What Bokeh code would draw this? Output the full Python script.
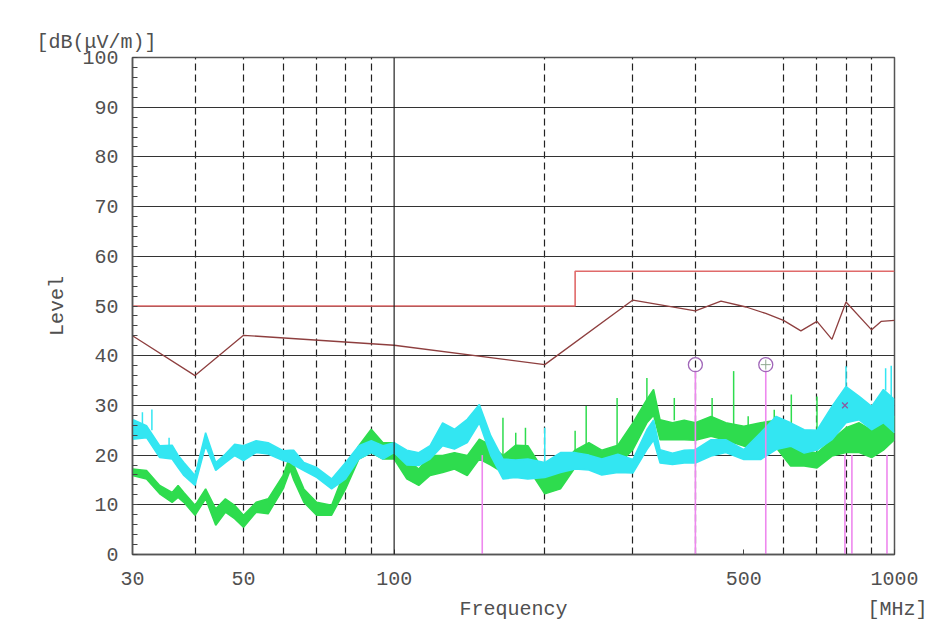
import math
from bokeh.plotting import figure
from bokeh.models import (ColumnDataSource, FixedTicker, SingleIntervalTicker, Span,
                          Title, Range1d)
from bokeh.embed import file_html
from bokeh.resources import INLINE

# ---------------- data ----------------
freq = [30, 32, 34, 36, 37, 38, 40, 42, 44, 46, 48, 50, 53, 56, 60, 62, 63, 66, 70, 75,
        80, 85, 90, 95, 100, 106, 112, 118, 125, 132, 140, 148, 156, 165, 175, 185,
        200, 215, 230, 245, 260, 280, 300, 320, 330, 340, 360, 380, 400, 430, 460,
        500, 540, 580, 620, 660, 700, 750, 800, 850, 900, 950, 1000]

green_lo = [15.9, 15.2, 12.2, 10.5, 11.5, 10.5, 7.9, 11.2, 5.9, 8.5, 7.2, 5.5, 8.5, 8.2, 13.2, 17.0, 15.0, 10.5, 7.9, 7.9,
            13.2, 19.2, 20.5, 19.2, 19.2, 15.2, 13.9, 15.9, 16.5, 17.2, 15.9, 19.2, 18.0, 16.5, 19.2, 17.5,
            12.2, 13.2, 17.5, 18.5, 17.5, 18.0, 21.1, 26.5, 28.0, 23.1, 23.1, 23.1, 23.0, 23.8, 23.0,
            21.8, 21.5, 21.5, 17.8, 17.8, 17.4, 19.8, 20.5, 20.5, 19.5, 21.0, 23.1]
green_hi = [17.2, 16.9, 13.9, 12.5, 13.9, 12.5, 9.9, 13.2, 9.2, 11.2, 9.9, 7.9, 10.5, 11.2, 15.9, 20.0, 18.0, 13.2, 10.5, 9.9,
            17.2, 21.9, 25.2, 22.5, 22.5, 19.2, 17.2, 19.9, 19.9, 20.5, 19.9, 23.2, 22.0, 19.9, 22.0, 21.9,
            16.5, 17.9, 21.0, 22.5, 21.0, 22.0, 26.5, 31.2, 33.2, 27.1, 26.5, 27.0, 26.5, 27.8, 26.5,
            25.8, 26.5, 27.0, 24.5, 21.1, 20.4, 23.1, 25.5, 26.5, 25.0, 26.5, 27.8]

cyan_lo = [23.2, 23.5, 19.5, 19.2, 17.5, 15.9, 13.9, 21.9, 16.9, 18.5, 19.9, 18.9, 20.5, 20.2, 18.9, 18.5, 18.0, 16.9, 15.5, 13.2,
           15.2, 19.2, 20.5, 19.2, 20.5, 18.0, 17.9, 19.2, 21.9, 21.2, 22.5, 26.5, 19.9, 15.2, 15.5, 15.2,
           15.5, 16.5, 17.2, 17.0, 16.0, 16.5, 16.4, 21.1, 23.0, 18.4, 18.1, 18.4, 18.4, 19.8, 20.5,
           19.1, 19.1, 21.1, 21.8, 20.4, 21.0, 23.1, 26.5, 27.1, 25.1, 26.5, 24.5]
cyan_hi = [27.2, 25.9, 21.9, 22.0, 20.0, 18.5, 15.9, 24.5, 18.5, 20.2, 22.2, 21.9, 22.9, 22.5, 20.9, 21.0, 21.0, 18.5, 17.5, 15.2,
           18.5, 21.9, 22.9, 21.9, 22.5, 21.0, 20.5, 21.9, 26.5, 25.2, 27.2, 30.2, 23.9, 19.2, 19.0, 19.2,
           18.5, 20.5, 20.5, 20.0, 19.2, 20.2, 19.1, 25.1, 27.1, 21.1, 20.4, 21.0, 21.1, 23.1, 23.1,
           21.1, 24.5, 27.8, 26.5, 25.1, 25.0, 29.8, 33.8, 31.8, 29.8, 33.2, 31.2]

green_spike_f = [165, 175, 183, 230, 242, 279, 320, 363, 432, 477, 510, 575, 622, 700]
green_spike_base = [20.0, 22.0, 21.0, 21.0, 22.0, 22.0, 31.0, 27.0, 27.0, 26.0, 25.5, 27.0, 24.0, 20.0]
green_spike_top = [27.5, 24.5, 25.5, 24.9, 29.9, 31.5, 35.5, 31.5, 31.5, 36.9, 27.8, 29.1, 32.2, 31.8]

cyan_spike_f = [31.4, 32.8, 35.5, 200, 800, 960, 985]
cyan_spike_base = [26.0, 25.0, 22.0, 18.5, 33.0, 33.0, 31.0]
cyan_spike_top = [28.6, 29.2, 23.5, 25.5, 37.9, 37.5, 38.0]

limit_a_f = [30, 230, 230, 1000]
limit_a_db = [50, 50, 57, 57]

limit_b_f = [30, 40, 50, 100, 200, 300, 400, 450, 505, 553, 600, 650, 700, 750, 800, 900, 940, 1000]
limit_b_db = [44.0, 36.0, 44.1, 42.1, 38.2, 51.2, 49.0, 51.0, 49.8, 48.5, 47.1, 45.0, 46.9, 43.3, 50.8, 45.2, 46.9, 47.1]

mark_f = [150, 400, 553, 796, 822, 966]
mark_db = [20, 37, 37, 20, 20, 20]

circle_f = [400, 553]
circle_db = [38.2, 38.2]

cross_f = [796]
cross_db = [30]

x_ticks = [30, 50, 100, 500, 1000]
x_dash_grid = [40, 50, 60, 70, 80, 90, 200, 300, 400, 600, 700, 800, 900]

y_unit = "[dB(\u03bcV/m)]"
y_name = "Level"
x_name = "Frequency"
x_unit = "[MHz]"

# ---------------- figure ----------------
FONT = "Liberation Mono"
TXT = "#505050"
FS = "20px"
GREEN = "#2edc4e"
CYAN = "#33e6f2"

LEFT, TOP, BOTTOM, RIGHT = 132, 57, 76, 36

p = figure(x_axis_type="log", x_range=Range1d(30, 1000), y_range=Range1d(0, 100),
           frame_width=762, frame_height=497,
           min_border_left=LEFT, min_border_right=RIGHT, min_border_top=TOP,
           min_border_bottom=BOTTOM,
           output_backend="svg", toolbar_location=None)
p.background_fill_color = "white"
p.border_fill_color = "white"
p.outline_line_color = "#555555"
p.outline_line_width = 1.5

# axes
p.xaxis.ticker = FixedTicker(ticks=x_ticks, minor_ticks=[])
p.yaxis.ticker = SingleIntervalTicker(interval=10, num_minor_ticks=5)
for ax in (p.xaxis[0], p.yaxis[0]):
    ax.major_label_text_font = FONT
    ax.major_label_text_font_size = FS
    ax.major_label_text_color = TXT
    ax.axis_label_text_font = FONT
    ax.axis_label_text_font_size = FS
    ax.axis_label_text_font_style = "normal"
    ax.axis_label_text_color = TXT
    ax.axis_line_color = "#555555"
    ax.axis_line_width = 1.5
    ax.major_tick_out = 0
    ax.minor_tick_out = 0
    ax.major_tick_line_color = "#444444"
    ax.minor_tick_line_color = "#444444"
p.xaxis.major_tick_in = 5
p.xaxis.major_label_standoff = 17
p.yaxis.major_tick_in = 0
p.yaxis.minor_tick_in = 5
p.yaxis.major_label_standoff = 14

# axis names; the x name and its unit share one line (monospace, padded with no-break spaces)
NB = "\u00a0"
p.yaxis.axis_label = y_name
p.yaxis.axis_label_standoff = 10
p.xaxis.axis_label = NB * 30 + x_name + NB * 25 + x_unit
p.xaxis.axis_label_standoff = 10

p.add_layout(Title(text=y_unit, align="left", offset=-96, standoff=7,
                   text_font=FONT, text_font_size=FS, text_font_style="normal",
                   text_color=TXT), "above")

# grids
p.ygrid.grid_line_color = "#333333"
p.ygrid.grid_line_width = 1.2
p.ygrid.grid_line_alpha = 1.0
p.xgrid.ticker = FixedTicker(ticks=x_dash_grid)
p.xgrid.grid_line_color = "#222222"
p.xgrid.grid_line_dash = "7 4"
p.xgrid.grid_line_width = 1.2
p.xgrid.grid_line_alpha = 1.0
p.add_layout(Span(location=100, dimension="height", line_color="#222222", line_width=1.2))

# limit lines
p.line(limit_a_f, limit_a_db, line_color="#e06a6a", line_width=1.6)
p.line(limit_b_f, limit_b_db, line_color="#8e3f3f", line_width=1.3)

# traces
gsrc = ColumnDataSource(dict(f=freq, lo=green_lo, hi=green_hi))
csrc = ColumnDataSource(dict(f=freq, lo=cyan_lo, hi=cyan_hi))
p.varea(x="f", y1="lo", y2="hi", source=gsrc, fill_color=GREEN)
p.line(x="f", y="hi", source=gsrc, line_color=GREEN, line_width=1.5)
p.line(x="f", y="lo", source=gsrc, line_color=GREEN, line_width=1.5)
p.segment(x0=green_spike_f, y0=green_spike_base, x1=green_spike_f, y1=green_spike_top,
          line_color=GREEN, line_width=1.5)

p.varea(x="f", y1="lo", y2="hi", source=csrc, fill_color=CYAN)
p.line(x="f", y="hi", source=csrc, line_color=CYAN, line_width=1.5)
p.line(x="f", y="lo", source=csrc, line_color=CYAN, line_width=1.5)
p.segment(x0=cyan_spike_f, y0=cyan_spike_base, x1=cyan_spike_f, y1=cyan_spike_top,
          line_color=CYAN, line_width=1.5)

# markers
p.segment(x0=mark_f, y0=[0] * len(mark_f), x1=mark_f, y1=mark_db,
          line_color="#ee88ee", line_width=1.6)
p.scatter(circle_f, circle_db, marker="circle", size=14, fill_color=None,
          line_color="#a066b8", line_width=1.3)
p.scatter(circle_f[1:], circle_db[1:], marker="cross", size=10,
          line_color="#8fa88f", line_width=1.0)
p.scatter(cross_f, cross_db, marker="x", size=8, line_color="#8a5aa0", line_width=1.3)

open("out.html", "w").write(file_html(p, INLINE))
